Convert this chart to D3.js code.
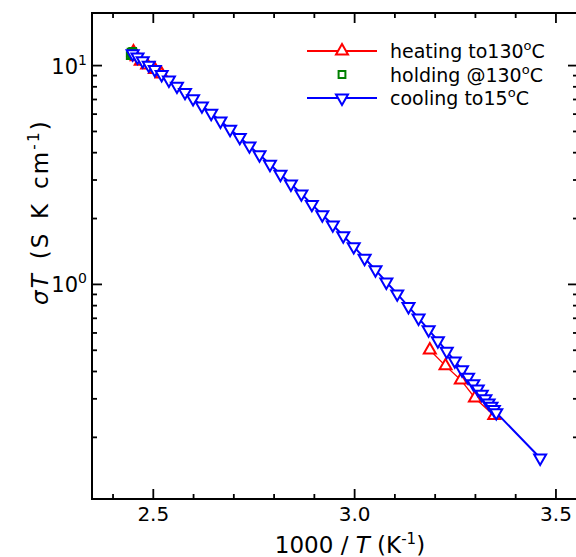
<!DOCTYPE html>
<html>
<head>
<meta charset="utf-8">
<script src="https://cdn.jsdelivr.net/npm/d3@7"></script>
<style>
  body { margin: 0; background: #fff; }
  svg { display: block; }
  text { font-family: "DejaVu Sans", Verdana, sans-serif; fill: #000; }
</style>
</head>
<body>
<svg id="chart" width="576" height="557"></svg>
<script>
// Arrhenius plot: sigma*T versus 1000/T for a heat / hold / cool cycle

// cooling from 130 °C down to 15 °C
const coolingX = [2.450, 2.462, 2.475, 2.490, 2.505, 2.522, 2.540, 2.560, 2.580, 2.600,
                  2.622, 2.645, 2.668, 2.692, 2.716, 2.740, 2.765, 2.791, 2.817, 2.843,
                  2.869, 2.895, 2.921, 2.947, 2.973, 2.999, 3.026, 3.053, 3.080, 3.107,
                  3.135, 3.160, 3.185, 3.208, 3.230, 3.250, 3.268, 3.283, 3.296, 3.307,
                  3.317, 3.326, 3.334, 3.341, 3.347, 3.353, 3.462];
const coolingY = [11.27, 10.88, 10.46, 9.99, 9.54, 9.05, 8.55, 8.01, 7.50, 7.02,
                  6.51, 6.02, 5.55, 5.09, 4.67, 4.27, 3.89, 3.52, 3.17, 2.86,
                  2.58, 2.31, 2.07, 1.86, 1.66, 1.48, 1.31, 1.16, 1.02, 0.900,
                  0.788, 0.698, 0.617, 0.550, 0.492, 0.445, 0.405, 0.375, 0.350, 0.331,
                  0.313, 0.299, 0.286, 0.276, 0.267, 0.258, 0.160];

// heating up to 130 °C (null marks the stretch without readings)
const heatingX = [3.348, 3.300, 3.265, 3.227, 3.188, 3.000,
                  2.522, 2.505, 2.486, 2.470, 2.460, 2.452];
const heatingY = [0.250, 0.301, 0.364, 0.422, 0.499, null,
                  9.10, 9.55, 10.0, 10.40, 10.90, 11.50];

// holding at 130 °C
const holdingX = [2.444, 2.446, 2.448, 2.450, 2.452];
const holdingY = [11.05, 11.45, 11.25, 11.55, 11.35];

// axis ticks
const xMajorTicks = [2.5, 3.0, 3.5];
const xMinorTicks = [2.4, 2.6, 2.7, 2.8, 2.9, 3.1, 3.2, 3.3, 3.4];
const yMajorTicks = [1, 10];
const yMinorTicks = [0.2, 0.3, 0.4, 0.5, 0.6, 0.7, 0.8, 0.9, 2, 3, 4, 5, 6, 7, 8, 9];
const xDomain = [2.349, 3.556];
const yDomain = [0.104, 17.3];

const legendLabels = [
  { pre: "heating to130", post: "C" },
  { pre: "holding @130", post: "C" },
  { pre: "cooling to15", post: "C" }
];

const RED = "#ff0000", GREEN = "#008000", BLUE = "#0000ff";

const svg = d3.select("#chart");
const plot = { left: 92, top: 13, right: 578, bottom: 499 };

const x = d3.scaleLinear().domain(xDomain).range([plot.left, plot.right]);
const y = d3.scaleLog().domain(yDomain).range([plot.bottom, plot.top]);

const pairs = (xs, ys) => xs.map((v, i) => ({ x: v, y: ys[i] }));
const cooling = pairs(coolingX, coolingY);
const heating = pairs(heatingX, heatingY);
const holding = pairs(holdingX, holdingY);

// ---- axes (ticks point inward) ----
function styleAxis(g) {
  g.select(".domain").remove();
  g.selectAll(".tick line").attr("stroke", "#000").attr("stroke-width", 1.8);
}

svg.append("g").attr("transform", `translate(0,${plot.bottom})`)
  .call(d3.axisBottom(x).tickValues(xMajorTicks).tickSize(-10).tickPadding(8)
        .tickFormat(d3.format(".1f")))
  .call(styleAxis)
  .selectAll("text").attr("font-size", 20).attr("font-family", "DejaVu Sans, sans-serif");
svg.append("g").attr("transform", `translate(0,${plot.bottom})`)
  .call(d3.axisBottom(x).tickValues(xMinorTicks).tickSize(-5).tickFormat(""))
  .call(styleAxis);
svg.append("g").attr("transform", `translate(0,${plot.top})`)
  .call(d3.axisTop(x).tickValues(xMajorTicks).tickSize(-10).tickFormat(""))
  .call(styleAxis);
svg.append("g").attr("transform", `translate(0,${plot.top})`)
  .call(d3.axisTop(x).tickValues(xMinorTicks).tickSize(-5).tickFormat(""))
  .call(styleAxis);

const yLeft = svg.append("g").attr("transform", `translate(${plot.left},0)`)
  .call(d3.axisLeft(y).tickValues(yMajorTicks).tickSize(-10).tickFormat(""))
  .call(styleAxis);
svg.append("g").attr("transform", `translate(${plot.left},0)`)
  .call(d3.axisLeft(y).tickValues(yMinorTicks).tickSize(-5).tickFormat(""))
  .call(styleAxis);
svg.append("g").attr("transform", `translate(${plot.right},0)`)
  .call(d3.axisRight(y).tickValues(yMajorTicks).tickSize(-10).tickFormat(""))
  .call(styleAxis);
svg.append("g").attr("transform", `translate(${plot.right},0)`)
  .call(d3.axisRight(y).tickValues(yMinorTicks).tickSize(-5).tickFormat(""))
  .call(styleAxis);

// power-of-ten labels on the left axis
yLeft.selectAll(".tick").each(function (d) {
  const t = d3.select(this).append("text")
    .attr("x", -5).attr("y", 8)
    .attr("text-anchor", "end")
    .attr("font-size", 21);
  t.append("tspan").text("10");
  t.append("tspan").attr("dy", -9).attr("font-size", 14).text(Math.round(Math.log10(d)));
});

// frame
svg.append("rect")
  .attr("x", plot.left).attr("y", plot.top)
  .attr("width", plot.right - plot.left).attr("height", plot.bottom - plot.top)
  .attr("fill", "none").attr("stroke", "#000").attr("stroke-width", 2);

// ---- data ----
const line = d3.line().defined(d => d.y != null).x(d => x(d.x)).y(d => y(d.y));
const triUp = d3.symbol().type(d3.symbolTriangle).size(62);
const square = d3.symbol().type(d3.symbolSquare).size(46);

svg.append("path").datum(heating).attr("d", line)
  .attr("fill", "none").attr("stroke", RED).attr("stroke-width", 1.3);
svg.append("g").selectAll("path").data(heating.filter(d => d.y != null)).join("path")
  .attr("d", triUp).attr("transform", d => `translate(${x(d.x)},${y(d.y)})`)
  .attr("fill", "#fff").attr("stroke", RED).attr("stroke-width", 2);

svg.append("g").selectAll("path").data(holding).join("path")
  .attr("d", square).attr("transform", d => `translate(${x(d.x)},${y(d.y)})`)
  .attr("fill", "#fff").attr("stroke", GREEN).attr("stroke-width", 2);

svg.append("path").datum(cooling).attr("d", line)
  .attr("fill", "none").attr("stroke", BLUE).attr("stroke-width", 2);
svg.append("g").selectAll("path").data(cooling).join("path")
  .attr("d", triUp).attr("transform", d => `translate(${x(d.x)},${y(d.y)}) rotate(180)`)
  .attr("fill", "#fff").attr("stroke", BLUE).attr("stroke-width", 2);

// ---- legend ----
const legendRows = [
  { color: RED, kind: "up", line: true },
  { color: GREEN, kind: "square", line: false },
  { color: BLUE, kind: "down", line: true }
];
const legend = svg.append("g");
legendRows.forEach((r, i) => {
  const cy = 51 + i * 23.5;
  const row = legend.append("g").attr("transform", `translate(0,${cy})`);
  if (r.line) {
    row.append("line").attr("x1", 307).attr("x2", 377).attr("y1", 0).attr("y2", 0)
      .attr("stroke", r.color).attr("stroke-width", 2);
  }
  const sym = r.kind === "square" ? square : triUp;
  row.append("path").attr("d", sym)
    .attr("transform", `translate(342,0)${r.kind === "down" ? " rotate(180)" : ""}`)
    .attr("fill", "#fff").attr("stroke", r.color).attr("stroke-width", 2);
  const t = row.append("text").attr("x", 390).attr("y", 7).attr("font-size", 19);
  t.append("tspan").text(legendLabels[i].pre);
  t.append("tspan").attr("dy", -8).attr("font-size", 13).text("o");
  t.append("tspan").attr("dy", 8).text(legendLabels[i].post);
});

// ---- axis titles ----
const xt = svg.append("text").attr("x", 350).attr("y", 553)
  .attr("text-anchor", "middle").attr("font-size", 23);
xt.append("tspan").text("1000 / ");
xt.append("tspan").attr("font-style", "italic").text("T");
xt.append("tspan").text(" (K");
xt.append("tspan").attr("dy", -9).attr("font-size", 15).text("-1");
xt.append("tspan").attr("dy", 9).text(")");

const yt = svg.append("text")
  .attr("transform", "translate(48,212) rotate(-90)")
  .attr("text-anchor", "middle").attr("font-size", 23)
  .attr("letter-spacing", 2.2).attr("word-spacing", 3);
yt.append("tspan").attr("font-style", "italic").text("σT");
yt.append("tspan").text(" (S K cm");
yt.append("tspan").attr("dy", -9).attr("font-size", 15).text("-1");
yt.append("tspan").attr("dy", 9).text(")");
</script>
</body>
</html>
